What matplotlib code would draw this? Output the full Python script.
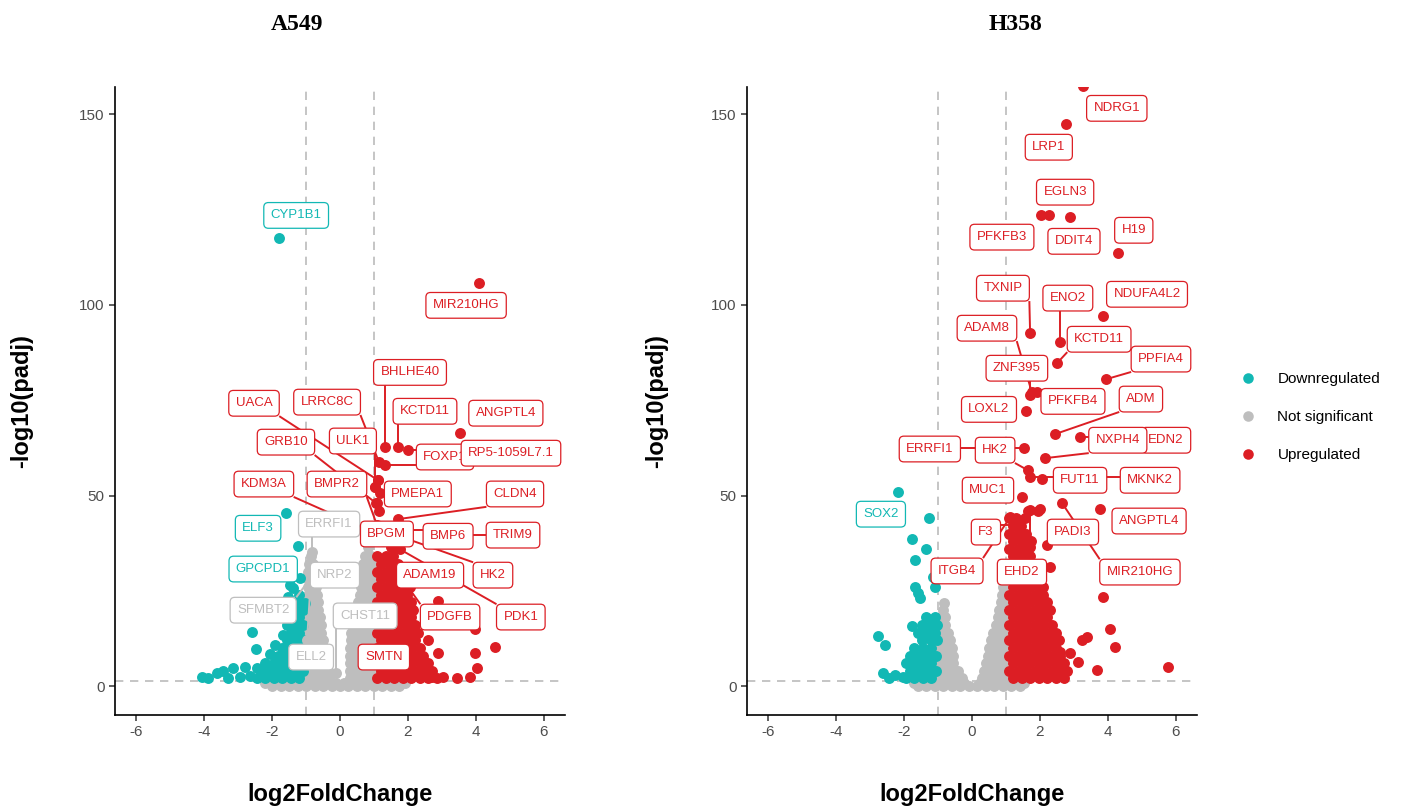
import matplotlib
matplotlib.use("Agg")
import matplotlib.pyplot as plt
from matplotlib.lines import Line2D
import numpy as np

plt.rcParams['font.family'] = ['Liberation Sans', 'DejaVu Sans']
plt.rcParams['axes.unicode_minus'] = False

teal = '#12B8B4'
red = '#DC1E24'
grey = '#BEBEBE'
group_colors = {'down': teal, 'ns': grey, 'up': red}
group_names = {'down': 'Downregulated', 'ns': 'Not significant', 'up': 'Upregulated'}

# ---------------- A549 ----------------
# dense clouds, one row per -log10(padj) level: (y, [log2FC ...])
a549_ns_rows = [
    (0.0, [-2.0, -1.75, -1.5, -1.25, -1.0, -0.75, -0.5, -0.25, 0.0, 0.25, 0.5, 0.75, 1.0, 1.25, 1.5, 1.75]),
    (0.9, [-2.2, -1.87, -1.62, -1.37, -1.12, -0.87, -0.62, -0.37, -0.12, 0.12, 0.37, 0.62, 0.87, 1.12, 1.37, 1.62, 1.9]),
    (2.0, [-0.95, -0.75, -0.55, -0.33, 0.3, 0.5, 0.7, 0.9]),
    (4.0, [-0.95, -0.85, -0.65, -0.42, -0.36, 0.28, 0.4, 0.6, 0.8, 0.95]),
    (6.0, [-0.95, -0.75, -0.55, -0.4, 0.28, 0.5, 0.7, 0.9]),
    (8.0, [-0.95, -0.85, -0.65, -0.45, 0.29, 0.4, 0.6, 0.8, 0.95]),
    (10.0, [-0.95, -0.75, -0.55, -0.46, 0.3, 0.5, 0.7, 0.9]),
    (12.0, [-0.95, -0.85, -0.65, -0.5, 0.31, 0.4, 0.6, 0.8, 0.95]),
    (14.0, [-0.95, -0.75, -0.55, 0.32, 0.5, 0.7, 0.9]),
    (16.0, [-0.95, -0.85, -0.65, -0.56, 0.36, 0.6, 0.8, 0.95]),
    (18.0, [-0.95, -0.75, -0.6, 0.42, 0.5, 0.7, 0.9]),
    (20.0, [-0.95, -0.85, -0.65, 0.46, 0.6, 0.8, 0.95]),
    (22.0, [-0.95, -0.75, -0.66, 0.52, 0.7, 0.9]),
    (24.0, [-0.95, -0.85, -0.68, 0.58, 0.8, 0.95]),
    (26.0, [-0.95, -0.75, -0.7, 0.62, 0.7, 0.9]),
    (28.0, [-0.95, -0.85, -0.72, 0.68, 0.8, 0.95]),
    (30.0, [-0.95, -0.78, 0.68, 0.9]),
    (32.0, [-0.9, -0.8, 0.68, 0.8, 0.95]),
    (34.0, [-0.86, 0.75, 0.9]),
    (36.5, [0.82]),
]
a549_down_rows = [
    (2.0, [-2.45, -2.2, -1.95, -1.7, -1.45, -1.2]),
    (4.0, [-2.32, -2.07, -1.82, -1.57, -1.32, -1.08]),
    (6.0, [-2.2, -1.95, -1.7, -1.45, -1.2]),
    (8.0, [-1.82, -1.57, -1.32, -1.08]),
    (10.0, [-1.7, -1.45, -1.2]),
    (12.0, [-1.57, -1.32, -1.08]),
    (14.0, [-1.45, -1.2]),
    (16.0, [-1.57, -1.32, -1.08]),
    (18.0, [-1.45, -1.2]),
    (20.0, [-1.32, -1.08]),
    (22.0, [-1.2]),
]
a549_down_x = [-1.24, -1.47, -1.38, -1.53, -1.03, -2.59, -1.68, -1.91, -2.47, -2.06,
               -4.06, -3.88, -3.62, -3.44, -3.15, -2.79, -2.44, -3.3, -2.95, -2.65, -1.2]
a549_down_y = [36.7, 26.5, 25.7, 23.3, 21.8, 14.2, 13.4, 10.8, 9.7, 8.4,
               2.4, 2.1, 3.4, 3.9, 4.7, 5.0, 4.7, 2.0, 2.3, 2.6, 24.0]
a549_up_rows = [
    (34.0, [1.1, 1.35, 1.55]),
    (32.0, [1.22, 1.47, 1.72]),
    (30.0, [1.1, 1.35, 1.6, 1.85]),
    (28.0, [1.22, 1.47, 1.72, 1.97]),
    (26.0, [1.1, 1.35, 1.6, 1.85, 2.05]),
    (24.0, [1.22, 1.47, 1.72, 1.97]),
    (22.0, [1.1, 1.35, 1.6, 1.85, 2.1]),
    (20.0, [1.22, 1.47, 1.72, 1.97, 2.15]),
    (18.0, [1.1, 1.35, 1.6, 1.85, 2.1]),
    (16.0, [1.22, 1.47, 1.72, 1.97, 2.2]),
    (14.0, [1.1, 1.35, 1.6, 1.85, 2.1, 2.3]),
    (12.0, [1.22, 1.47, 1.72, 1.97, 2.22]),
    (10.0, [1.1, 1.35, 1.6, 1.85, 2.1, 2.35]),
    (8.0, [1.22, 1.47, 1.72, 1.97, 2.22, 2.45]),
    (6.0, [1.1, 1.35, 1.6, 1.85, 2.1, 2.35, 2.6]),
    (4.0, [1.22, 1.47, 1.72, 1.97, 2.22, 2.47, 2.72]),
    (2.0, [1.1, 1.35, 1.6, 1.85, 2.1, 2.35, 2.6, 2.85]),
]
a549_up_x = [2.88, 3.97, 4.56, 3.97, 2.88, 4.03, 3.44, 3.82, 3.03, 2.71,
             2.35, 2.6, 2.5, 1.5, 1.12, 1.03, 1.09, 1.15, 1.45, 1.26]
a549_up_y = [22.2, 15.0, 10.2, 8.7, 8.7, 4.7, 2.1, 2.4, 2.4, 2.4,
             7.3, 12.0, 19.0, 36.5, 54.0, 52.2, 48.0, 46.0, 40.0, 38.0]

# labelled genes: name, group, log2FC, -log10(padj)
a549_genes = ['CYP1B1', 'ELF3', 'GPCPD1', 'SFMBT2', 'ERRFI1', 'NRP2', 'CHST11', 'ELL2',
              'MIR210HG', 'BHLHE40', 'KCTD11', 'ANGPTL4', 'FOXP1', 'RP5-1059L7.1', 'LRRC8C',
              'UACA', 'ULK1', 'GRB10', 'BMPR2', 'KDM3A', 'PMEPA1', 'CLDN4', 'BPGM', 'BMP6',
              'TRIM9', 'HK2', 'ADAM19', 'PDK1', 'PDGFB', 'SMTN']
a549_gene_group = ['down', 'down', 'down', 'ns', 'ns', 'ns', 'ns', 'ns'] + ['up'] * 22
a549_gene_x = [-1.79, -1.59, -1.18, -0.91, -0.82, -0.97, -0.12, -0.8,
               4.09, 1.32, 1.71, 3.53, 1.32, 2.0, 1.15,
               1.12, 1.03, 1.06, 1.09, 1.09, 1.18, 1.71, 1.68, 1.91,
               2.65, 1.76, 1.62, 1.76, 1.82, 1.32]
a549_gene_y = [117.5, 45.4, 28.3, 27.8, 35.1, 12.0, 3.5, 5.0,
               105.7, 62.7, 62.7, 66.4, 58.0, 61.9, 58.7,
               54.0, 52.2, 48.0, 42.2, 39.9, 50.6, 43.8, 36.2, 40.9,
               39.6, 39.3, 37.5, 35.9, 28.3, 8.1]
# repelled label anchor positions (layout)
a549_label_pos = [(-1.29, 123.5), (-2.41, 41.4), (-2.26, 30.7), (-2.26, 19.9), (-0.32, 42.5),
                  (-0.15, 29.1), (0.74, 18.4), (-0.85, 7.6), (3.71, 99.9), (2.06, 82.3),
                  (2.5, 72.1), (4.88, 71.6), (3.09, 60.1), (5.03, 61.1), (-0.38, 74.5),
                  (-2.53, 74.2), (0.38, 64.3), (-1.59, 64.0), (-0.09, 53.0), (-2.24, 53.0),
                  (2.29, 50.4), (5.15, 50.4), (1.38, 39.9), (3.18, 39.3), (5.09, 39.6),
                  (4.5, 29.1), (2.65, 29.1), (5.32, 18.1), (3.24, 18.1), (1.29, 7.6)]

# ---------------- H358 ----------------
h358_ns_rows = [
    (0.0, [-1.6, -1.35, -1.1, -0.85, -0.6, -0.35, -0.1, 0.15, 0.4, 0.65, 0.9, 1.15, 1.4]),
    (0.9, [-1.72, -1.47, -1.22, -0.97, -0.72, -0.47, -0.25, 0.25, 0.52, 0.77, 1.02, 1.27, 1.52]),
    (2.0, [-0.95, -0.75, -0.5, -0.3, 0.28, 0.5, 0.72, 0.92]),
    (4.0, [-0.95, -0.85, -0.62, -0.4, 0.35, 0.6, 0.82]),
    (6.0, [-0.95, -0.75, -0.55, 0.42, 0.5, 0.72, 0.92]),
    (8.0, [-0.95, -0.85, -0.62, -0.55, 0.46, 0.6, 0.82]),
    (10.0, [-0.95, -0.75, -0.6, 0.5, 0.72, 0.92]),
    (12.0, [-0.95, -0.85, -0.65, 0.56, 0.82]),
    (14.0, [-0.95, -0.75, -0.7, 0.62, 0.72, 0.92]),
    (16.0, [-0.95, -0.8, 0.7, 0.82]),
    (18.0, [-0.92, -0.8, 0.76, 0.92]),
    (20.0, [-0.85, 0.8]),
    (21.8, [-0.82]),
    (22.0, [0.85, 0.94]),
    (24.0, [0.88]),
    (26.0, [0.9]),
]
h358_down_rows = [
    (18.0, [-1.35, -1.1]),
    (16.0, [-1.47, -1.22, -1.02]),
    (14.0, [-1.6, -1.35, -1.1]),
    (12.0, [-1.47, -1.22, -1.02]),
    (10.0, [-1.7, -1.45, -1.2]),
    (8.0, [-1.82, -1.57, -1.32, -1.07]),
    (6.0, [-1.95, -1.7, -1.45, -1.2]),
    (4.0, [-1.82, -1.57, -1.32, -1.07]),
    (2.0, [-1.95, -1.7, -1.45, -1.2]),
]
h358_down_x = [-1.26, -1.76, -1.35, -1.68, -1.15, -1.09, -1.68, -1.59, -1.53, -1.76,
               -2.76, -2.56, -2.62, -2.26, -2.03, -2.45]
h358_down_y = [44.0, 38.5, 35.9, 33.0, 28.6, 26.0, 26.0, 24.4, 23.1, 15.7,
               13.1, 10.8, 3.4, 2.9, 2.4, 2.0]
h358_up_rows = [
    (44.0, [1.1, 1.3, 1.55]),
    (42.0, [1.2, 1.45]),
    (40.0, [1.1, 1.35, 1.6]),
    (38.0, [1.22, 1.47, 1.75]),
    (36.0, [1.1, 1.35, 1.6]),
    (34.0, [1.22, 1.47, 1.72]),
    (32.0, [1.1, 1.35, 1.6, 1.85]),
    (30.0, [1.22, 1.47, 1.72, 1.97]),
    (28.0, [1.1, 1.35, 1.6, 1.85]),
    (26.0, [1.22, 1.47, 1.72, 1.97, 2.1]),
    (24.0, [1.1, 1.35, 1.6, 1.85, 2.1]),
    (22.0, [1.22, 1.47, 1.72, 1.97, 2.22]),
    (20.0, [1.1, 1.35, 1.6, 1.85, 2.1, 2.3]),
    (18.0, [1.22, 1.47, 1.72, 1.97, 2.22]),
    (16.0, [1.1, 1.35, 1.6, 1.85, 2.1, 2.35]),
    (14.0, [1.22, 1.47, 1.72, 1.97, 2.22, 2.47]),
    (12.0, [1.1, 1.35, 1.6, 1.85, 2.1, 2.35, 2.55]),
    (10.0, [1.22, 1.47, 1.72, 1.97, 2.22, 2.47]),
    (8.0, [1.1, 1.35, 1.6, 1.85, 2.1, 2.35, 2.6]),
    (6.0, [1.22, 1.47, 1.72, 1.97, 2.22, 2.47, 2.7]),
    (4.0, [1.1, 1.35, 1.6, 1.85, 2.1, 2.35, 2.6, 2.8]),
    (2.0, [1.22, 1.47, 1.72, 1.97, 2.22, 2.47, 2.72]),
]
h358_up_x = [3.85, 4.2, 3.38, 3.24, 3.12, 3.68, 5.76, 2.88, 2.59, 1.94,
             1.65, 2.2, 2.29, 1.71, 4.05, 1.47]
h358_up_y = [23.3, 10.2, 12.8, 12.0, 6.3, 4.2, 5.0, 8.7, 8.9, 46.0,
             46.0, 37.0, 31.2, 36.5, 15.0, 40.0]

h358_genes = ['NDRG1', 'LRP1', 'EGLN3', 'PFKFB3', 'DDIT4', 'H19', 'TXNIP', 'ENO2', 'NDUFA4L2',
              'KCTD11', 'ADAM8', 'ZNF395', 'PPFIA4', 'PFKFB4', 'LOXL2', 'ADM', 'EDN2', 'NXPH4',
              'ERRFI1', 'HK2', 'FUT11', 'MKNK2', 'MUC1', 'SOX2', 'ANGPTL4', 'PADI3', 'MIR210HG',
              'F3', 'ITGB4', 'EHD2']
h358_gene_group = ['up'] * 23 + ['down'] + ['up'] * 6
h358_gene_x = [3.26, 2.76, 2.26, 2.03, 2.88, 4.29, 1.71, 2.59, 3.85,
               2.5, 1.76, 1.71, 3.94, 1.91, 1.59, 2.44, 3.18, 2.15,
               1.53, 1.65, 2.06, 1.71, 1.47, -2.18, 3.76, 2.0, 2.65,
               1.26, 1.12, 1.71]
h358_gene_y = [157.4, 147.4, 123.5, 123.5, 123.0, 113.6, 92.6, 90.2, 97.0,
               84.7, 77.1, 76.3, 80.5, 77.1, 72.1, 66.1, 65.3, 59.8,
               62.4, 56.6, 54.3, 54.8, 49.6, 50.9, 46.4, 46.4, 48.0,
               42.2, 44.3, 46.2]
h358_label_pos = [(4.26, 151.6), (2.26, 141.4), (2.74, 129.6), (0.88, 117.8), (3.0, 116.7),
                  (4.76, 119.6), (0.91, 104.4), (2.82, 101.8), (5.15, 102.8), (3.74, 91.0),
                  (0.44, 93.9), (1.32, 83.4), (5.56, 85.8), (2.97, 74.7), (0.5, 72.6),
                  (4.97, 75.3), (5.71, 64.5), (4.29, 64.5), (-1.24, 62.2), (0.68, 61.9),
                  (3.18, 54.0), (5.24, 54.0), (0.47, 51.4), (-2.68, 45.1), (5.21, 43.3),
                  (2.97, 40.4), (4.94, 29.9), (0.41, 40.4), (-0.44, 30.2), (1.47, 29.9)]

W, H = 1404, 807
fig = plt.figure(figsize=(W / 100, H / 100), dpi=100)
ax1 = fig.add_axes([115 / W, 1 - 715 / H, 450 / W, 628 / H])
ax2 = fig.add_axes([747 / W, 1 - 715 / H, 450 / W, 628 / H])


def unroll(rows, xs, ys):
    px, py = [], []
    for y, row in rows:
        px += row
        py += [y] * len(row)
    return px + list(xs), py + list(ys)


def volcano(ax, ns, down, up, genes, groups, gx, gy, label_pos):
    s = 62
    for xv in (-1, 1):
        ax.axvline(xv, color='#BBBBBB', lw=1.2, ls=(0, (5, 4)), zorder=1)
    ax.axhline(-np.log10(0.05), color='#BBBBBB', lw=1.2, ls=(0, (5, 4)), zorder=1)
    ax.scatter(*ns, s=s, c=grey, lw=0, zorder=2)
    ax.scatter(*down, s=s, c=teal, lw=0, zorder=3)
    ax.scatter(*up, s=s, c=red, lw=0, zorder=3)
    for grp in ('ns', 'down', 'up'):
        idx = [i for i, g in enumerate(groups) if g == grp]
        ax.scatter([gx[i] for i in idx], [gy[i] for i in idx], s=s,
                   c=group_colors[grp], lw=0, zorder=3)

    ax.spines[['top', 'right']].set_visible(False)
    ax.spines[['left', 'bottom']].set_linewidth(1.2)
    ax.set_xlim(-6.62, 6.62)
    ax.set_ylim(-7.6, 157.2)
    ax.set_xticks(range(-6, 7, 2))
    ax.set_yticks([0, 50, 100, 150])
    ax.tick_params(labelsize=11, labelcolor='#4D4D4D', length=4, width=1.1, color='#333333')

    texts = []
    for name, grp, (lx, ly) in zip(genes, groups, label_pos):
        c = group_colors[grp]
        t = ax.text(lx, ly, name, color=c, fontsize=9.5, ha='center', va='center', zorder=6,
                    bbox=dict(boxstyle='round,pad=0.52,rounding_size=0.35', fc='white',
                              ec=c, lw=0.9))
        texts.append(t)
    return texts


ax1_texts = volcano(ax1,
                    unroll(a549_ns_rows, [], []),
                    unroll(a549_down_rows, a549_down_x, a549_down_y),
                    unroll(a549_up_rows, a549_up_x, a549_up_y),
                    a549_genes, a549_gene_group, a549_gene_x, a549_gene_y, a549_label_pos)
ax2_texts = volcano(ax2,
                    unroll(h358_ns_rows, [], []),
                    unroll(h358_down_rows, h358_down_x, h358_down_y),
                    unroll(h358_up_rows, h358_up_x, h358_up_y),
                    h358_genes, h358_gene_group, h358_gene_x, h358_gene_y, h358_label_pos)

# leader segments like ggrepel: only when the label sits away from its point
fig.canvas.draw()
renderer = fig.canvas.get_renderer()
for ax, texts, groups, gx, gy in ((ax1, ax1_texts, a549_gene_group, a549_gene_x, a549_gene_y),
                                  (ax2, ax2_texts, h358_gene_group, h358_gene_x, h358_gene_y)):
    for t, grp, x, y in zip(texts, groups, gx, gy):
        bb = t.get_bbox_patch().get_window_extent(renderer)
        px, py = ax.transData.transform((x, y))
        nx = min(max(px, bb.x0), bb.x1)
        ny = min(max(py, bb.y0), bb.y1)
        if np.hypot(px - nx, py - ny) > 14:
            ex, ey = ax.transData.inverted().transform((nx, ny))
            ax.plot([x, ex], [y, ey], color=group_colors[grp], lw=1.4, zorder=4,
                    solid_capstyle='butt')

fig.text(297 / W, 1 - 25 / H, 'A549', family=['Liberation Serif', 'DejaVu Serif'],
         weight='bold', fontsize=17, ha='center', va='center')
fig.text(1015 / W, 1 - 25 / H, 'H358', family=['Liberation Serif', 'DejaVu Serif'],
         weight='bold', fontsize=17, ha='center', va='center')
for xc in (340, 972):
    fig.text(xc / W, 1 - 795 / H, 'log2FoldChange', weight='bold', fontsize=17,
             ha='center', va='center')
for xc in (22, 657):
    fig.text(xc / W, 1 - 401 / H, '-log10(padj)', weight='bold', fontsize=17,
             ha='center', va='center', rotation=90)

handles = [Line2D([], [], marker='o', ls='', markersize=7.6, markerfacecolor=group_colors[g],
                  markeredgewidth=0) for g in ('down', 'ns', 'up')]
fig.legend(handles, [group_names[g] for g in ('down', 'ns', 'up')], loc='upper left',
           bbox_to_anchor=(1240 / W, 1 - 372 / H), frameon=False, fontsize=11,
           handlelength=1.0, handletextpad=1.45, labelspacing=1.58, borderpad=0,
           borderaxespad=0)

fig.savefig('out.png', dpi=100)
